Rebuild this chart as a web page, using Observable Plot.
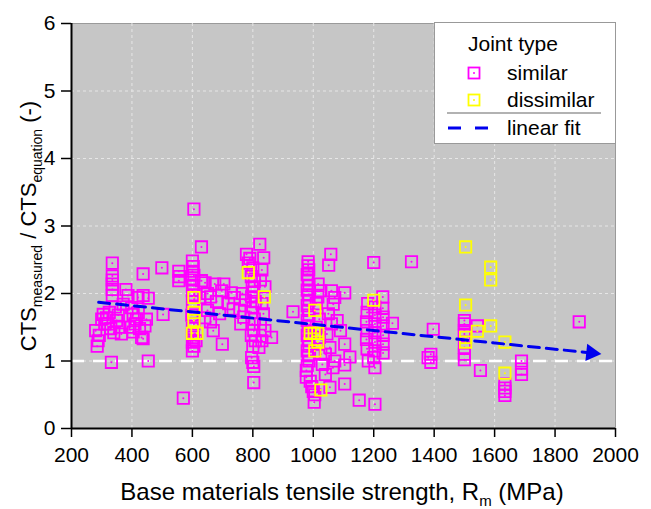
<!DOCTYPE html>
<html>
<head>
<meta charset="utf-8">
<script src="https://cdn.jsdelivr.net/npm/d3@7"></script>
<script src="https://cdn.jsdelivr.net/npm/@observablehq/plot@0.6"></script>
<style>
  html, body { margin: 0; padding: 0; background: white; }
  #chart { position: relative; width: 651px; height: 509px; }
</style>
</head>
<body>
<div id="chart"></div>
<script>
// Tick labels
const xTicks = [200, 400, 600, 800, 1000, 1200, 1400, 1600, 1800, 2000];
const yTicks = [0, 1, 2, 3, 4, 5, 6];

// Series: similar joints
const simX = [
  280, 288, 285, 292, 300, 305, 310, 316, 321, 325, 330, 335, 335, 335, 335, 335, 335, 332, 340, 345,
  349, 355, 360, 365, 371, 380, 387, 393, 399, 404, 404, 410, 415, 420, 421, 425, 432, 437, 437, 437,
  443, 448, 454, 454, 499, 503, 555, 557, 555, 570,
  600, 603, 600, 605, 598, 603, 600, 606, 600, 603, 598, 605, 600, 603, 600, 605, 600, 612, 605, 630,
  642, 630, 625, 641, 650, 660, 669, 699, 674, 704, 697, 729, 739, 735, 757, 680, 690, 720, 650, 660,
  779, 785, 790, 800, 795, 805, 798, 803, 796, 808, 800, 795, 805, 798, 803, 795, 808, 800, 820, 796,
  800, 803, 803, 823, 836, 830, 825, 840, 830, 835, 825, 840, 862, 830, 770, 775, 765, 760,
  933, 983, 983, 985, 980, 983, 986, 980, 983, 986, 980, 983, 986, 980, 983, 986, 980, 983, 986, 980,
  983, 986, 980, 977, 977, 990, 995, 1003, 1005, 1000, 1010, 1016, 1025, 1015, 1020, 1010, 1020, 1015, 1025, 1030,
  1058, 1051, 1060, 1071, 1066, 1079, 1060, 1050, 1045, 1055, 1071, 1065, 1055, 1104, 1104, 1121, 1104, 1104, 1152, 1090,
  1040, 1040,
  1200, 1180, 1204, 1230, 1178, 1204, 1231, 1176, 1204, 1231, 1178, 1204, 1231, 1176, 1204, 1231, 1178, 1204, 1231, 1182,
  1204, 1200, 1204, 1262, 1325, 1230,
  1397, 1389, 1389, 1380,
  1500, 1500, 1500, 1500, 1500, 1500, 1500, 1543, 1553,
  1634, 1634, 1634, 1634,
  1689, 1689, 1689,
  1880
];
const simY = [
  1.45, 1.30, 1.22, 1.38, 1.62, 1.69, 1.55, 1.64, 1.55, 1.72, 1.48, 2.45, 2.26, 2.20, 2.14, 2.06, 1.97, 0.98, 1.42, 1.80,
  1.60, 1.68, 1.50, 1.40, 1.84, 2.06, 1.97, 1.50, 1.79, 1.69, 1.43, 1.55, 1.62, 1.94, 1.72, 1.48, 1.35, 2.29, 1.97, 1.33,
  1.52, 1.62, 1.93, 1.00, 2.38, 1.69, 2.33, 2.25, 2.19, 0.45,
  2.48, 2.40, 2.33, 2.27, 2.20, 2.12, 2.05, 1.98, 1.88, 1.80, 1.68, 1.55, 1.48, 1.35, 1.28, 1.22, 1.15, 1.30, 3.25, 2.69,
  2.16, 2.19, 1.94, 1.64, 1.75, 1.58, 1.45, 1.25, 2.14, 2.14, 2.04, 2.01, 1.94, 1.77, 1.75, 1.88, 1.70, 1.85, 2.00, 1.95,
  2.58, 2.45, 2.52, 2.38, 2.25, 2.18, 2.10, 2.02, 1.95, 1.88, 1.80, 1.72, 1.62, 1.55, 1.45, 1.38, 1.30, 1.22, 1.20, 1.05,
  0.98, 0.92, 0.68, 2.73, 2.53, 2.35, 2.20, 2.10, 1.85, 1.70, 1.55, 1.45, 1.35, 1.30, 1.65, 1.90, 2.00, 1.55,
  1.73, 2.47, 2.41, 2.35, 2.28, 2.20, 2.12, 2.05, 1.98, 1.90, 1.82, 1.75, 1.68, 1.60, 1.52, 1.45, 1.38, 1.30, 1.22, 1.15,
  1.08, 1.00, 0.93, 0.86, 0.76, 0.70, 0.62, 0.39, 0.50, 0.55, 1.85, 2.14, 2.04, 1.95, 1.62, 1.50, 1.35, 1.25, 1.10, 0.95,
  2.58, 2.42, 2.04, 1.94, 1.84, 1.60, 1.55, 1.70, 1.40, 1.20, 1.00, 0.90, 0.61, 2.01, 1.25, 1.06, 0.94, 0.66, 0.42, 1.45,
  1.10, 0.80,
  2.46, 1.85, 1.80, 1.78, 1.72, 1.68, 1.65, 1.58, 1.55, 1.52, 1.45, 1.42, 1.38, 1.32, 1.28, 1.25, 1.18, 1.15, 1.12, 1.00,
  0.90, 1.05, 0.36, 1.56, 2.47, 1.95,
  1.47, 1.10, 0.98, 1.05,
  1.60, 1.55, 1.45, 1.40, 1.20, 1.10, 1.02, 1.52, 0.86,
  0.66, 0.60, 0.55, 0.49,
  1.00, 0.88, 0.80,
  1.58
];

// Series: dissimilar joints
const disX = [605, 605, 605, 600, 615, 785, 838, 1005, 990, 1003, 1015, 1015, 1005, 1025, 1200,
              1504, 1587, 1587, 1504, 1504, 1504, 1543, 1587, 1634, 1634];
const disY = [1.94, 1.72, 1.60, 1.41, 1.41, 2.31, 1.95, 1.75, 1.41, 1.41, 1.41, 1.28, 1.15, 0.57, 1.90,
              2.69, 2.39, 2.20, 1.83, 1.35, 1.28, 1.44, 1.52, 1.28, 0.82];

// Linear fit (start / end)
const fitX = [290, 1920];
const fitY = [1.87, 1.12];

const similar = simX.map((x, i) => ({x, y: simY[i]}));
const dissimilar = disX.map((x, i) => ({x, y: disY[i]}));
const fit = fitX.map((x, i) => ({x, y: fitY[i]}));

const MAG = "#ff00ff", YEL = "#ffff00", BLUE = "#0000ee";

const plot = Plot.plot({
  width: 651,
  height: 509,
  marginLeft: 71,
  marginRight: 36,
  marginTop: 23,
  marginBottom: 81,
  style: {fontFamily: "'Liberation Sans', Arial, sans-serif", background: "white", color: "black"},
  x: {domain: [200, 2000]},
  y: {domain: [0, 6]},
  marks: [
    Plot.frame({fill: "#c6c6c6", stroke: "#9a9a9a", strokeWidth: 1}),
    Plot.gridX(xTicks.slice(1, -1), {stroke: "#e6e6e6", strokeOpacity: 1, strokeDasharray: "3,3"}),
    Plot.gridY(yTicks.slice(1, -1), {stroke: "#e6e6e6", strokeOpacity: 1, strokeDasharray: "3,3"}),
    Plot.ruleY([1], {stroke: "white", strokeWidth: 2.5, strokeDasharray: "13,9"}),
    Plot.dot(similar, {x: "x", y: "y", symbol: "square", r: 6.4, stroke: MAG, strokeWidth: 1.8, fill: "none"}),
    Plot.dot(similar, {x: "x", y: "y", r: 1, fill: MAG, stroke: "none"}),
    Plot.dot(dissimilar, {x: "x", y: "y", symbol: "square", r: 6.4, stroke: YEL, strokeWidth: 1.8, fill: "none"}),
    Plot.dot(dissimilar, {x: "x", y: "y", r: 1, fill: YEL, stroke: "none"}),
    Plot.line(fit, {x: "x", y: "y", stroke: BLUE, strokeWidth: 3, strokeDasharray: "11,7"}),
    Plot.dot(fit.slice(-1), {x: "x", y: "y", symbol: "triangle", r: 6.5, fill: BLUE, stroke: "none", rotate: 96}),
    Plot.ruleX([200], {stroke: "black", strokeWidth: 2}),
    Plot.ruleY([0], {stroke: "black", strokeWidth: 2}),
    Plot.axisX(xTicks, {tickSize: 9, tickPadding: 10, fontSize: 21, strokeWidth: 1.5, label: null, tickFormat: d => String(d)}),
    Plot.axisY(yTicks, {tickSize: 10, tickPadding: 6, fontSize: 21, strokeWidth: 1.5, label: null, tickFormat: d => String(d)})
  ]
});

document.getElementById("chart").appendChild(plot);

const svg = d3.select(plot);

// X axis title with subscript
const xt = svg.append("text")
  .attr("x", 342).attr("y", 500)
  .attr("text-anchor", "middle")
  .attr("font-size", 24)
  .attr("fill", "black");
xt.append("tspan").text("Base materials tensile strength, R");
xt.append("tspan").attr("font-size", 15).attr("dy", 6).text("m");
xt.append("tspan").attr("dy", -6).text(" (MPa)");

// Y axis title with subscripts
const yt = svg.append("text")
  .attr("transform", "translate(36,226) rotate(-90)")
  .attr("text-anchor", "middle")
  .attr("font-size", 22)
  .attr("fill", "black");
yt.append("tspan").text("CTS");
yt.append("tspan").attr("font-size", 14).attr("dy", 6).text("measured");
yt.append("tspan").attr("dy", -6).text(" / CTS");
yt.append("tspan").attr("font-size", 14).attr("dy", 6).text("equation");
yt.append("tspan").attr("dy", -6).text(" (-)");

// Legend
const lg = svg.append("g").attr("font-size", 21).attr("fill", "black").attr("text-anchor", "start");
lg.append("rect").attr("x", 434.5).attr("y", 22.5).attr("width", 181).attr("height", 121)
  .attr("fill", "white").attr("stroke", "#999").attr("stroke-width", 1);
lg.append("text").attr("x", 468).attr("y", 51).text("Joint type");
const legItems = [{c: MAG, t: "similar", y: 73}, {c: YEL, t: "dissimilar", y: 100}];
legItems.forEach(d => {
  lg.append("rect").attr("x", 468.5).attr("y", d.y - 5.5).attr("width", 11).attr("height", 11)
    .attr("fill", "none").attr("stroke", d.c).attr("stroke-width", 1.8);
  lg.append("circle").attr("cx", 474).attr("cy", d.y).attr("r", 1).attr("fill", d.c);
  lg.append("text").attr("x", 507).attr("y", d.y + 7).text(d.t);
});
lg.append("line").attr("x1", 447).attr("x2", 601).attr("y1", 113).attr("y2", 113)
  .attr("stroke", "#999").attr("stroke-width", 1.5);
lg.append("line").attr("x1", 448).attr("x2", 490).attr("y1", 128).attr("y2", 128)
  .attr("stroke", BLUE).attr("stroke-width", 3).attr("stroke-dasharray", "13,14");
lg.append("text").attr("x", 507).attr("y", 135).text("linear fit");
</script>
</body>
</html>
